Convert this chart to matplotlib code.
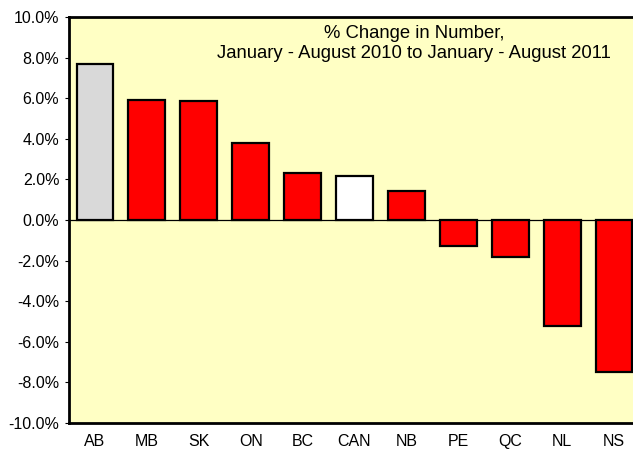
import matplotlib
matplotlib.use("Agg")
import matplotlib.pyplot as plt
from matplotlib.ticker import FuncFormatter

categories = ["AB", "MB", "SK", "ON", "BC", "CAN", "NB", "PE", "QC", "NL", "NS"]
values = [7.7, 5.9, 5.85, 3.8, 2.3, 2.15, 1.45, -1.3, -1.8, -5.2, -7.5]
bar_colors = ["#d9d9d9", "red", "red", "red", "red", "white", "red", "red", "red", "red", "red"]
title_lines = ["% Change in Number,", "January - August 2010 to January - August 2011"]
yticks = [-10, -8, -6, -4, -2, 0, 2, 4, 6, 8, 10]

plt.rcParams['font.family'] = ['Liberation Sans', 'DejaVu Sans']

fig = plt.figure(figsize=(6.33, 4.5), dpi=100)
ax = fig.add_axes([69/633, 27/450, 571/633, 406/450])
ax.set_facecolor("#ffffc4")

x = list(range(len(categories)))
ax.bar(x, values, width=0.71, color=bar_colors, edgecolor="black", linewidth=1.6, zorder=3)
ax.axhline(0, color="black", linewidth=0.9, zorder=2)

ax.set_xlim(-0.5, len(categories) - 0.5)
ax.set_ylim(-10, 10)
ax.set_yticks(yticks)
ax.yaxis.set_major_formatter(FuncFormatter(lambda v, p: f"{v:.1f}%"))
ax.set_xticks(x)
ax.set_xticklabels(categories)
ax.tick_params(axis="y", labelsize=11.5, length=3, width=0.8, pad=4, colors="black")
ax.tick_params(axis="x", labelsize=11.5, length=0, pad=8)

for s in ["left", "top", "bottom"]:
    ax.spines[s].set_linewidth(2)
ax.spines["right"].set_visible(False)

ax.text(0.604, 0.98, title_lines[0] + "\n" + title_lines[1], transform=ax.transAxes,
        ha="center", va="top", fontsize=13.3, linespacing=1.2)

fig.savefig("out.png", dpi=100)
